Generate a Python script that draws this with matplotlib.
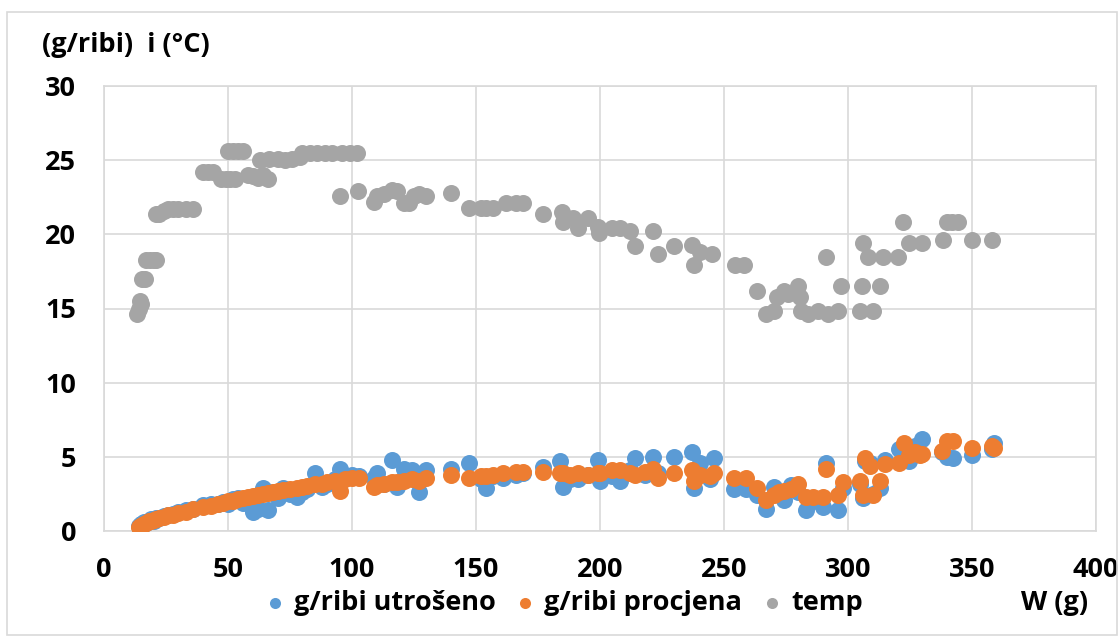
import matplotlib
matplotlib.use("Agg")
import matplotlib.pyplot as plt
from matplotlib.patches import Rectangle

plt.rcParams['font.family'] = ['Open Sans', 'DejaVu Sans']
plt.rcParams['font.weight'] = 'bold'

# feed data (shared W for both feed series)
w_feed = [14, 14.5, 15, 15.5, 16, 17, 18, 19, 20, 21, 22, 24, 26, 28, 30, 33, 36, 40, 43, 46,
          48, 50, 52, 54, 56, 58, 60, 62, 64, 66, 68, 70, 72, 75, 78, 80, 82, 85, 88, 90,
          93, 95, 97, 100,
          103, 109, 110, 113, 116, 118, 121, 124, 127, 130, 140, 147, 152, 154, 157, 161,
          166, 169, 177, 184, 185, 188, 191, 195, 199, 200, 205, 208,
          212, 214, 218, 221.5, 223.5, 230, 237, 238, 240.5, 244.5, 246, 254, 259, 263.5,
          267, 270, 272, 274, 277, 280, 283, 286, 290, 291, 296, 298,
          305, 306, 307, 309, 310, 313, 315, 320.5, 322.5, 324.5, 327, 329, 330, 338, 340,
          342.5, 350, 358, 359]
utroseno = [0.35, 0.2, 0.5, 0.45, 0.6, 0.55, 0.7, 0.8, 0.65, 0.85, 0.9, 1.0, 1.1, 1.15, 1.25, 1.4, 1.5, 1.75, 1.8, 1.85,
            1.95, 1.8, 2.15, 2.2, 1.9, 2.0, 1.3, 1.5, 2.9, 1.4, 2.6, 2.2, 2.9, 2.5, 2.3, 2.6, 2.8, 3.9, 3.0, 3.2,
            3.5, 4.2, 3.6, 3.8,
            3.7, 3.6, 3.9, 3.2, 4.8, 3.0, 4.2, 4.1, 2.6, 4.1, 4.2, 4.6, 3.5, 2.9, 3.7, 3.6,
            3.8, 3.9, 4.3, 4.7, 3.0, 3.5, 3.5, 3.8, 4.8, 3.4, 3.7, 3.4,
            4.1, 4.9, 3.8, 5.0, 3.9, 5.0, 5.3, 2.9, 4.6, 3.5, 4.9, 2.8, 2.8, 2.4,
            1.5, 3.0, 2.6, 2.1, 3.1, 2.6, 1.4, 2.0, 1.6, 4.6, 1.4, 2.9,
            3.2, 2.2, 4.7, 4.6, 2.5, 2.9, 4.8, 5.5, 4.8, 4.7, 5.7, 5.2, 6.2, 5.3, 5.0,
            4.9, 5.1, 5.5, 5.9]
procjena = [0.25, 0.3, 0.35, 0.4, 0.45, 0.55, 0.65, 0.7, 0.75, 0.8, 0.85, 0.95, 1.05, 1.1, 1.2, 1.3, 1.45, 1.6, 1.7, 1.8,
            1.9, 2.0, 2.05, 2.15, 2.25, 2.3, 2.35, 2.4, 2.5, 2.55, 2.6, 2.7, 2.75, 2.8, 2.9, 3.0, 3.05, 3.15, 3.2, 3.3,
            3.35, 2.7, 3.5, 3.55,
            3.6, 3.0, 3.1, 3.2, 3.3, 3.3, 3.4, 3.5, 3.4, 3.6, 3.8, 3.6, 3.7, 3.7, 3.8, 3.9,
            4.0, 4.0, 4.0, 3.9, 3.9, 3.8, 3.9, 3.8, 3.9, 3.9, 4.1, 4.1,
            3.9, 3.8, 4.0, 4.2, 3.6, 3.9, 4.1, 3.4, 3.8, 3.7, 3.9, 3.6, 3.6, 2.9,
            2.1, 2.4, 2.6, 2.7, 2.8, 3.2, 2.3, 2.3, 2.3, 4.2, 2.4, 3.3,
            3.4, 2.4, 4.9, 4.4, 2.4, 3.4, 4.5, 4.6, 5.9, 5.1, 5.3, 5.1, 5.2, 5.4, 6.1,
            6.1, 5.6, 5.7, 5.6]

# temperature data
w_temp = [13.5, 14, 14.5, 14.8, 15.5, 16.5, 17, 18.5, 20, 21, 21, 22, 24, 26, 28, 30, 33, 36,
          40, 42, 44, 47, 49, 51, 53, 50, 52, 54, 56, 58, 60, 62, 64, 66, 63, 66.5, 70, 73,
          76, 79, 80, 83, 86, 89, 92, 96, 99, 102, 95, 102.5,
          109, 110, 113, 116, 118, 121, 123, 125, 127, 130, 140, 147, 152, 154, 157, 162,
          166, 169, 177, 184.5, 185, 189, 191, 195, 199, 199.5, 205, 208, 212, 214, 221.5,
          223.5, 230, 237, 238, 240.5, 245, 254.5, 258,
          263.5, 267, 270, 271.5, 274, 276, 280, 280.5, 281, 284, 288, 291, 292, 296, 297,
          305, 306, 305.5, 308, 310, 313, 314, 320, 322, 324.5, 330, 338.5, 340, 342,
          344.5, 350, 358]
temp = [14.6, 15.0, 15.5, 15.3, 17.0, 17.0, 18.3, 18.3, 18.3, 18.3, 21.4, 21.4, 21.6, 21.7, 21.7, 21.7, 21.7, 21.7,
        24.2, 24.2, 24.2, 23.7, 23.7, 23.7, 23.7, 25.6, 25.6, 25.6, 25.6, 24.0, 23.9, 23.8, 24.0, 23.7, 25.0, 25.1, 25.1, 25.0,
        25.1, 25.2, 25.5, 25.5, 25.5, 25.5, 25.5, 25.5, 25.5, 25.5, 22.6, 22.9,
        22.2, 22.6, 22.7, 23.0, 22.9, 22.1, 22.1, 22.6, 22.7, 22.6, 22.8, 21.8, 21.8, 21.8, 21.8, 22.1,
        22.1, 22.1, 21.4, 21.5, 20.8, 21.1, 20.4, 21.1, 20.5, 20.1, 20.4, 20.4, 20.2, 19.2, 20.2,
        18.7, 19.2, 19.3, 17.9, 18.8, 18.7, 17.9, 17.9,
        16.2, 14.6, 14.8, 15.8, 16.2, 16.0, 16.5, 15.8, 14.8, 14.6, 14.8, 18.5, 14.6, 14.8, 16.5,
        14.8, 19.4, 16.5, 18.5, 14.8, 16.5, 18.5, 18.5, 20.8, 19.4, 19.4, 19.6, 20.8, 20.8,
        20.8, 19.6, 19.6]

blue = '#5B9BD5'
orange = '#ED7D31'
gray = '#A5A5A5'
grid = '#D9D9D9'

fig = plt.figure(figsize=(11.2, 6.37), dpi=100)
ax = fig.add_axes([104 / 1120, 1 - 531 / 637, 992 / 1120, 445 / 637])

ms = 150
ax.scatter(w_feed, utroseno, s=ms, color=blue, linewidths=0, label='g/ribi utrošeno', zorder=3)
ax.scatter(w_feed, procjena, s=ms, color=orange, linewidths=0, label='g/ribi procjena', zorder=3)
ax.scatter(w_temp, temp, s=ms, color=gray, linewidths=0, label='temp', zorder=3)

ax.set_xlim(0, 400)
ax.set_ylim(0, 30)
ax.set_xticks(range(0, 401, 50))
ax.set_yticks(range(0, 31, 5))
ax.grid(True, color=grid, linewidth=1.2)
ax.set_axisbelow(True)
for s in ax.spines.values():
    s.set_color(grid)
    s.set_linewidth(1.2)
ax.tick_params(length=0, labelsize=19.5)
ax.tick_params(axis='y', pad=20)
ax.tick_params(axis='x', pad=19)

fig.text(42 / 1120, 1 - 45 / 637, '(g/ribi)  i (°C)', fontsize=19.5, fontweight='bold',
         ha='left', va='center')
fig.text(1055 / 1120, 1 - 603 / 637, 'W (g)', fontsize=19.5, fontweight='bold',
         ha='center', va='center')

fig.legend(loc='center', bbox_to_anchor=(560 / 1120, 1 - 603 / 637), ncol=3, frameon=False,
           fontsize=19.5, markerscale=0.65, handletextpad=0.05, columnspacing=0.45, borderpad=0,
           handlelength=1.3)

fig.patches.append(Rectangle((7 / 1120, 2 / 637), 1110 / 1120, 623 / 637, transform=fig.transFigure,
                             fill=False, edgecolor=grid, linewidth=1.2))

fig.savefig('out.png', dpi=100)
